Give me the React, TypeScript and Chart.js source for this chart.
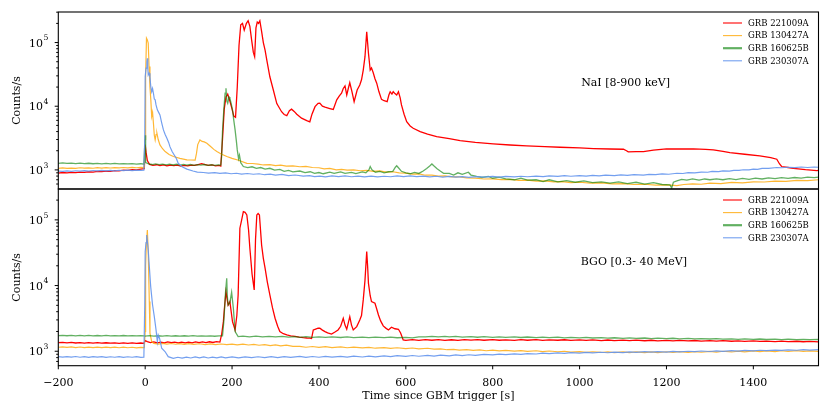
import React, { useEffect, useRef } from 'react';
import { Chart, registerables } from 'chart.js';

Chart.register(...registerables);

type Pt = [number, number];

const SERIES_NAMES = ['GRB 221009A', 'GRB 130427A', 'GRB 160625B', 'GRB 230307A'];
const LINE_COLORS = ['#ff0000', 'rgba(255,165,0,0.8)', 'rgba(0,128,0,0.62)', 'rgba(100,149,237,0.9)'];
const LINE_WIDTHS = [1.3, 1.2, 1.3, 1.2];
const LEGEND_WIDTHS = [1.1, 1.1, 2.2, 1.1];
const X_TICKS = [-200, 0, 200, 400, 600, 800, 1000, 1200, 1400];
const Y_TICKS = [1e3, 1e4, 1e5];
const X_TITLE = 'Time since GBM trigger [s]';
const Y_TITLE = 'Counts/s';
const NAI_LABEL = 'NaI [8-900 keV]';
const BGO_LABEL = 'BGO [0.3- 40 MeV]';

// ---------- NaI panel ----------
const NAI_221009A: Pt[] = [
  [-200, 890], [-190, 910], [-180, 895], [-170, 915], [-160, 905], [-150, 925], [-140, 915], [-130, 935],
  [-120, 925], [-110, 950], [-100, 940], [-90, 960], [-80, 950], [-70, 975], [-60, 965], [-50, 990], [-40, 980],
  [-30, 1005], [-20, 1000], [-10, 1030], [-2, 1045], [0, 2500], [2, 1900], [5, 1400], [10, 1220], [18, 1175],
  [26, 1205], [34, 1165], [42, 1195], [50, 1160], [58, 1190], [66, 1165], [74, 1185], [82, 1150], [90, 1180],
  [98, 1160], [106, 1190], [114, 1175], [122, 1215], [130, 1250], [138, 1215], [146, 1180], [154, 1195],
  [162, 1155], [170, 1175], [174, 1150], [178, 3000], [182, 9000], [186, 14000], [190, 15500], [195, 12000],
  [200, 9000], [204, 7000], [208, 6700], [212, 20000], [216, 90000], [220, 190000], [224, 200000],
  [228, 157000], [233, 200000], [237, 220000], [241, 180000], [245, 110000], [249, 70000], [252, 60000],
  [255, 170000], [258, 210000], [261, 200000], [264, 220000], [268, 150000], [272, 100000], [276, 76000],
  [280, 53000], [287, 29000], [295, 18000], [303, 11000], [314, 8200], [320, 7400], [326, 7100], [332, 8500],
  [337, 9000], [343, 8300], [349, 7500], [360, 6500], [372, 5950], [379, 5700], [384, 7500], [391, 9850],
  [398, 11100], [402, 11200], [408, 10000], [414, 9650], [425, 9200], [433, 8900], [441, 12600], [447, 14500],
  [452, 16000], [456, 19000], [460, 20800], [464, 15000], [468, 19500], [471, 23400], [476, 17000],
  [481, 11800], [485, 15000], [488, 18000], [494, 21600], [498, 26000], [502, 37000], [506, 60000],
  [510, 148000], [512, 100000], [514, 68000], [518, 37000], [521, 40000], [525, 33600], [529, 27000],
  [533, 23000], [538, 17000], [544, 12800], [550, 12200], [557, 11800], [561, 15000], [564, 16900],
  [568, 15500], [571, 16900], [575, 15800], [579, 15000], [583, 16900], [587, 13500], [590, 10500],
  [596, 7500], [602, 5700], [610, 4900], [617, 4500], [633, 4000], [650, 3650], [671, 3330], [700, 3100],
  [725, 2880], [760, 2700], [801, 2560], [840, 2460], [878, 2380], [920, 2320], [955, 2270], [1000, 2210],
  [1032, 2160], [1070, 2130], [1101, 2110], [1108, 2000], [1112, 1920], [1130, 1930], [1147, 1940],
  [1170, 2050], [1200, 2140], [1230, 2130], [1262, 2140], [1290, 2100], [1308, 2060], [1330, 1950],
  [1346, 1870], [1380, 1760], [1415, 1660], [1440, 1560], [1454, 1470], [1460, 1250], [1465, 1130],
  [1480, 1090], [1492, 1060], [1520, 1010], [1546, 975], [1550, 980],
];

const NAI_130427A: Pt[] = [
  [-200, 1060], [-190, 1075], [-180, 1055], [-170, 1070], [-160, 1060], [-150, 1080], [-140, 1065], [-130, 1078],
  [-120, 1062], [-110, 1082], [-100, 1070], [-90, 1085], [-80, 1072], [-70, 1088], [-60, 1075], [-50, 1090],
  [-40, 1078], [-30, 1092], [-20, 1080], [-10, 1095], [-2, 1090], [0, 3000], [1, 30000], [3, 117000],
  [5, 110000], [7, 98000], [9, 42000], [11, 20000], [13, 12600], [15, 6900], [17, 8000], [19, 5400], [21, 3500],
  [23, 2960], [25, 3600], [27, 3770], [30, 3000], [34, 2470], [40, 2150], [46, 1940], [55, 1750], [65, 1620],
  [80, 1520], [96, 1440], [105, 1430], [115, 1420], [118, 1800], [121, 2500], [126, 2960], [131, 2800],
  [136, 2750], [142, 2620], [150, 2350], [158, 2100], [165, 1940], [175, 1780], [188, 1620], [200, 1520],
  [215, 1420], [234, 1270], [247, 1260], [260, 1230], [272, 1195], [287, 1210], [300, 1170], [312, 1185],
  [325, 1150], [340, 1160], [356, 1120], [370, 1135], [385, 1090], [400, 1080], [412, 1040], [425, 1055],
  [440, 1000], [452, 1020], [465, 990], [480, 1000], [495, 970], [510, 985], [525, 950], [540, 965], [555, 925],
  [570, 935], [585, 900], [600, 890], [615, 860], [630, 865], [645, 825], [660, 830], [675, 800], [690, 805],
  [705, 775], [720, 780], [740, 750], [760, 745], [780, 720], [800, 725], [820, 705], [840, 710], [860, 685],
  [880, 690], [900, 665], [920, 670], [940, 650], [960, 655], [980, 632], [1000, 640], [1025, 618],
  [1050, 625], [1075, 605], [1100, 610], [1125, 590], [1150, 595], [1175, 575], [1200, 580], [1224, 565],
  [1240, 590], [1260, 605], [1280, 595], [1300, 620], [1325, 610], [1350, 635], [1375, 625], [1400, 650],
  [1425, 645], [1450, 665], [1475, 660], [1500, 685], [1525, 680], [1550, 700],
];

const NAI_160625B: Pt[] = [
  [-200, 1270], [-190, 1285], [-180, 1262], [-170, 1280], [-160, 1258], [-150, 1275], [-140, 1255], [-130, 1272],
  [-120, 1250], [-110, 1268], [-100, 1248], [-90, 1265], [-80, 1245], [-70, 1262], [-60, 1242], [-50, 1258],
  [-40, 1240], [-30, 1255], [-20, 1235], [-10, 1250], [-3, 1230], [0, 3500], [1, 1300], [8, 1240], [16, 1215],
  [24, 1245], [32, 1210], [40, 1235], [48, 1200], [56, 1230], [64, 1195], [72, 1225], [80, 1190], [88, 1220],
  [96, 1185], [104, 1215], [112, 1180], [120, 1210], [128, 1185], [136, 1215], [144, 1180], [152, 1205],
  [160, 1175], [168, 1200], [174, 1190], [176, 1620], [178, 4000], [181, 8760], [184, 16000], [186, 19200],
  [188, 12000], [190, 11100], [193, 14000], [195, 13400], [198, 11000], [201, 8760], [204, 6000], [207, 4250],
  [210, 2800], [212, 2060], [215, 1500], [217, 1700], [220, 1300], [226, 1130], [236, 1090], [246, 1120],
  [256, 1060], [266, 1090], [276, 1030], [287, 1060], [298, 990], [310, 1020], [320, 950], [330, 985],
  [340, 930], [356, 960], [368, 905], [380, 935], [390, 880], [400, 910], [410, 870], [425, 920], [435, 880],
  [450, 930], [460, 885], [475, 915], [485, 875], [500, 930], [508, 900], [515, 1000], [518, 1130], [522, 1000],
  [530, 920], [540, 950], [550, 900], [560, 935], [570, 950], [576, 1100], [579, 1160], [583, 1080], [590, 950],
  [600, 900], [610, 870], [620, 915], [630, 880], [640, 960], [648, 1050], [655, 1150], [660, 1240],
  [665, 1150], [672, 1040], [680, 950], [687, 885], [700, 880], [710, 830], [720, 900], [730, 850], [744, 920],
  [750, 830], [763, 790], [775, 760], [790, 790], [800, 740], [815, 770], [830, 720], [850, 700], [865, 740],
  [880, 690], [900, 700], [916, 655], [930, 700], [950, 650], [970, 680], [990, 640], [1010, 670], [1030, 630],
  [1050, 650], [1070, 620], [1090, 650], [1110, 610], [1130, 640], [1150, 600], [1170, 630], [1190, 590],
  [1208, 580], [1212, 520], [1216, 640], [1224, 670], [1235, 710], [1247, 690], [1260, 720], [1275, 690],
  [1288, 720], [1300, 700], [1315, 725], [1330, 700], [1345, 730], [1360, 705], [1375, 735], [1390, 712],
  [1405, 740], [1420, 720], [1435, 748], [1450, 730], [1465, 755], [1480, 738], [1495, 760], [1510, 745],
  [1525, 768], [1540, 755], [1550, 770],
];

const NAI_230307A: Pt[] = [
  [-200, 960], [-190, 945], [-180, 965], [-170, 950], [-160, 970], [-150, 955], [-140, 975], [-130, 958],
  [-120, 978], [-110, 962], [-100, 980], [-90, 965], [-80, 985], [-70, 968], [-60, 988], [-50, 972], [-40, 992],
  [-30, 975], [-20, 995], [-10, 980], [-3, 990], [-1, 3000], [0, 29000], [2, 39600], [4, 50000], [5, 56600],
  [6, 40000], [7, 31000], [9, 33000], [11, 29000], [13, 20000], [15, 16900], [17, 19000], [19, 16000],
  [21, 13000], [23, 12600], [25, 10500], [28, 8760], [31, 8000], [34, 7300], [38, 5500], [42, 4250],
  [46, 3600], [50, 3140], [54, 2700], [57, 2320], [62, 1950], [69, 1620], [72, 1500], [76, 1270], [85, 1120],
  [96, 1030], [110, 960], [120, 925], [134, 910], [146, 890], [160, 905], [172, 880], [185, 895], [198, 870],
  [210, 885], [222, 860], [235, 878], [249, 855], [262, 870], [275, 840], [288, 858], [300, 830], [315, 848],
  [330, 815], [345, 832], [364, 800], [378, 815], [390, 785], [402, 800], [415, 780], [430, 808], [445, 785],
  [460, 805], [475, 780], [490, 800], [505, 778], [520, 798], [535, 775], [550, 795], [565, 780], [580, 805],
  [595, 785], [610, 808], [625, 785], [640, 800], [655, 778], [670, 795], [685, 772], [700, 790], [715, 768],
  [730, 785], [745, 765], [763, 782], [780, 768], [800, 790], [815, 770], [830, 792], [850, 775], [865, 795],
  [880, 780], [900, 800], [916, 785], [930, 805], [950, 790], [965, 810], [980, 795], [1000, 815],
  [1015, 800], [1030, 822], [1045, 808], [1060, 830], [1080, 815], [1095, 835], [1110, 822], [1125, 842],
  [1147, 830], [1160, 852], [1175, 840], [1190, 865], [1205, 855], [1224, 885], [1238, 878], [1250, 905],
  [1265, 898], [1280, 925], [1295, 918], [1305, 945], [1320, 940], [1330, 965], [1345, 958], [1355, 985],
  [1367, 980], [1377, 1005], [1390, 1000], [1400, 1025], [1410, 1020], [1420, 1055], [1435, 1060],
  [1454, 1090], [1465, 1080], [1480, 1100], [1495, 1085], [1510, 1110], [1525, 1090], [1540, 1110],
  [1550, 1100],
];

// ---------- BGO panel ----------
const BGO_221009A: Pt[] = [
  [-200, 1350], [-190, 1365], [-180, 1340], [-170, 1360], [-160, 1335], [-150, 1355], [-140, 1332], [-130, 1352],
  [-120, 1330], [-110, 1350], [-100, 1328], [-90, 1348], [-80, 1325], [-70, 1345], [-60, 1322], [-50, 1342],
  [-40, 1320], [-30, 1338], [-20, 1318], [-10, 1335], [-3, 1320], [0, 1450], [5, 1400], [12, 1350], [20, 1385],
  [28, 1345], [36, 1380], [44, 1340], [52, 1385], [60, 1350], [68, 1375], [76, 1340], [84, 1380], [92, 1345],
  [100, 1375], [108, 1340], [116, 1385], [124, 1350], [132, 1390], [140, 1355], [148, 1395], [156, 1360],
  [164, 1400], [172, 1380], [176, 1800], [180, 2820], [183, 5000], [186, 8070], [189, 6000], [191, 5060],
  [195, 5700], [198, 4000], [201, 2820], [207, 2110], [211, 3500], [214, 7200], [218, 74600], [222, 99000],
  [226, 133000], [230, 130000], [234, 119000], [238, 70000], [241, 37000], [246, 15000], [251, 8570],
  [254, 50000], [257, 119000], [260, 125000], [263, 119000], [268, 41500], [272, 26000], [276, 18400],
  [281, 11500], [287, 7200], [293, 4600], [299, 3180], [305, 2400], [310, 1990], [318, 1850], [326, 1770],
  [335, 1720], [345, 1680], [355, 1640], [364, 1610], [372, 1590], [379, 1580], [383, 1560], [387, 2110],
  [391, 2160], [398, 2240], [402, 2240], [408, 2100], [414, 1990], [420, 1900], [429, 1830], [436, 1950],
  [444, 2110], [450, 2400], [456, 3180], [460, 2500], [464, 2160], [471, 3360], [475, 2500], [479, 2110],
  [487, 2370], [494, 3000], [498, 3500], [502, 6050], [506, 12000], [510, 32900], [512, 20000], [514, 10800],
  [518, 7000], [521, 5700], [529, 5380], [533, 4400], [537, 3570], [542, 2900], [548, 2430], [554, 2250],
  [560, 2110], [567, 2320], [575, 2200], [583, 2160], [588, 1900], [594, 1490], [600, 1460], [615, 1500],
  [630, 1465], [645, 1505], [660, 1470], [675, 1500], [690, 1460], [705, 1495], [720, 1465], [735, 1505],
  [750, 1475], [765, 1500], [780, 1470], [800, 1500], [815, 1470], [830, 1495], [850, 1465], [865, 1500],
  [880, 1470], [900, 1500], [915, 1465], [930, 1495], [950, 1470], [965, 1495], [980, 1462], [1000, 1490],
  [1015, 1460], [1030, 1485], [1050, 1455], [1065, 1482], [1080, 1452], [1100, 1478], [1115, 1450],
  [1130, 1475], [1150, 1445], [1165, 1470], [1180, 1440], [1200, 1465], [1215, 1438], [1230, 1462],
  [1250, 1435], [1265, 1458], [1280, 1430], [1300, 1452], [1315, 1425], [1330, 1448], [1350, 1420],
  [1365, 1442], [1380, 1415], [1400, 1435], [1415, 1410], [1430, 1430], [1450, 1405], [1465, 1425],
  [1480, 1400], [1500, 1420], [1515, 1395], [1530, 1410], [1550, 1390],
];

const BGO_130427A: Pt[] = [
  [-200, 1150], [-190, 1168], [-180, 1142], [-170, 1162], [-160, 1138], [-150, 1160], [-140, 1135], [-130, 1158],
  [-120, 1132], [-110, 1155], [-100, 1135], [-90, 1158], [-80, 1132], [-70, 1152], [-60, 1130], [-50, 1155],
  [-40, 1130], [-30, 1150], [-20, 1128], [-10, 1148], [-2, 1135], [0, 2000], [1, 20000], [2.6, 41500],
  [5, 70000], [7, 32800], [9.5, 5700], [11, 1880], [15, 1400], [20, 1320], [30, 1285], [40, 1315], [50, 1280],
  [60, 1312], [70, 1278], [80, 1310], [90, 1275], [100, 1305], [112, 1270], [125, 1300], [138, 1265],
  [150, 1295], [162, 1262], [175, 1290], [188, 1258], [200, 1285], [212, 1252], [225, 1280], [238, 1245],
  [250, 1272], [262, 1235], [275, 1262], [288, 1222], [300, 1250], [312, 1210], [325, 1235], [340, 1185],
  [356, 1190], [370, 1150], [385, 1180], [400, 1145], [415, 1172], [430, 1138], [450, 1165], [465, 1130],
  [480, 1155], [500, 1122], [515, 1148], [530, 1112], [550, 1138], [565, 1105], [580, 1130], [600, 1098],
  [615, 1120], [630, 1090], [650, 1110], [665, 1075], [680, 1090], [695, 1055], [710, 1068], [723, 1040],
  [740, 1060], [755, 1028], [770, 1048], [785, 1018], [800, 1040], [815, 1012], [830, 1032], [850, 1005],
  [865, 1025], [880, 998], [900, 1018], [915, 990], [930, 1008], [950, 982], [965, 1000], [980, 972],
  [1000, 990], [1015, 962], [1030, 982], [1050, 958], [1065, 978], [1080, 952], [1100, 975], [1115, 950],
  [1130, 975], [1150, 955], [1165, 980], [1180, 955], [1200, 982], [1215, 958], [1230, 985], [1250, 962],
  [1265, 990], [1280, 965], [1300, 995], [1315, 970], [1330, 1000], [1350, 975], [1365, 1005], [1380, 980],
  [1400, 1012], [1415, 985], [1430, 1015], [1450, 990], [1465, 1018], [1480, 992], [1500, 1020],
  [1515, 995], [1530, 1015], [1550, 995],
];

const BGO_160625B: Pt[] = [
  [-200, 1730], [-190, 1750], [-180, 1722], [-170, 1745], [-160, 1720], [-150, 1742], [-140, 1718], [-130, 1740],
  [-120, 1715], [-110, 1738], [-100, 1720], [-90, 1742], [-80, 1715], [-70, 1735], [-60, 1712], [-50, 1738],
  [-40, 1715], [-30, 1735], [-20, 1712], [-10, 1732], [-2, 1720], [0, 1700], [10, 1725], [20, 1698],
  [30, 1722], [40, 1695], [50, 1725], [60, 1700], [70, 1720], [80, 1695], [90, 1722], [100, 1700], [110, 1725],
  [120, 1698], [130, 1718], [140, 1695], [150, 1715], [160, 1692], [170, 1718], [178, 1720], [181, 2820],
  [185, 8000], [187.7, 12900], [189, 7000], [191, 5060], [195, 5500], [199, 7900], [203, 4510], [207, 1990],
  [214, 1670], [225, 1700], [240, 1660], [255, 1695], [270, 1655], [285, 1690], [300, 1650], [315, 1685],
  [330, 1645], [345, 1675], [356, 1625], [370, 1665], [385, 1630], [400, 1660], [415, 1625], [430, 1655],
  [450, 1620], [465, 1650], [480, 1615], [500, 1645], [515, 1612], [530, 1640], [550, 1610], [565, 1640],
  [580, 1605], [600, 1630], [615, 1600], [630, 1650], [645, 1660], [660, 1690], [675, 1650], [690, 1685],
  [700, 1650], [715, 1680], [730, 1645], [750, 1670], [765, 1635], [780, 1665], [800, 1630], [815, 1660],
  [830, 1625], [850, 1650], [865, 1620], [880, 1648], [900, 1615], [915, 1640], [930, 1610], [950, 1635],
  [965, 1600], [980, 1628], [1000, 1598], [1015, 1622], [1030, 1590], [1050, 1615], [1065, 1585],
  [1080, 1605], [1100, 1575], [1115, 1600], [1130, 1570], [1150, 1592], [1165, 1562], [1180, 1585],
  [1200, 1555], [1215, 1578], [1230, 1548], [1250, 1570], [1265, 1540], [1280, 1562], [1300, 1535],
  [1315, 1555], [1330, 1528], [1350, 1548], [1365, 1520], [1380, 1540], [1400, 1515], [1415, 1535],
  [1430, 1510], [1450, 1530], [1465, 1505], [1480, 1525], [1500, 1502], [1515, 1520], [1530, 1498],
  [1550, 1510],
];

const BGO_230307A: Pt[] = [
  [-200, 828], [-190, 812], [-180, 830], [-170, 815], [-160, 832], [-150, 810], [-140, 828], [-130, 808],
  [-120, 826], [-110, 812], [-100, 828], [-90, 805], [-80, 825], [-70, 810], [-60, 828], [-50, 806], [-40, 824],
  [-30, 810], [-20, 826], [-10, 808], [-3, 815], [-1, 5000], [0, 32800], [2, 45000], [3.5, 58700], [5.5, 44000],
  [7, 35000], [8.8, 23100], [12.7, 9630], [17, 5060], [21, 3360], [25, 2110], [28, 1400], [30, 1770],
  [33, 1580], [36, 1300], [38, 1110], [45.6, 990], [53, 828], [64.7, 780], [75, 810], [85, 785], [95, 815],
  [105, 790], [115, 818], [125, 792], [135, 820], [145, 790], [155, 815], [165, 795], [175, 822], [185, 795],
  [200, 818], [215, 792], [230, 822], [245, 798], [260, 825], [275, 800], [290, 828], [305, 802], [320, 830],
  [335, 805], [356, 835], [370, 805], [385, 832], [400, 810], [415, 835], [430, 812], [450, 838], [465, 815],
  [480, 842], [500, 818], [515, 845], [530, 822], [550, 848], [565, 828], [580, 855], [600, 835], [615, 862],
  [630, 840], [650, 868], [665, 845], [680, 872], [700, 852], [715, 880], [730, 860], [745, 885], [760, 868],
  [780, 895], [800, 880], [815, 905], [830, 888], [850, 912], [865, 898], [880, 922], [900, 908], [915, 935],
  [930, 918], [950, 942], [965, 928], [980, 950], [1000, 935], [1015, 958], [1030, 942], [1050, 965],
  [1065, 948], [1080, 972], [1100, 955], [1115, 978], [1130, 962], [1150, 985], [1165, 968], [1180, 990],
  [1200, 972], [1215, 995], [1230, 978], [1250, 1000], [1265, 985], [1280, 1008], [1300, 992], [1315, 1015],
  [1330, 998], [1350, 1022], [1365, 1005], [1380, 1030], [1400, 1012], [1415, 1035], [1430, 1020],
  [1450, 1042], [1465, 1028], [1480, 1050], [1500, 1035], [1515, 1058], [1530, 1040], [1550, 1055],
];

const NAI_SERIES: Pt[][] = [NAI_221009A, NAI_130427A, NAI_160625B, NAI_230307A];
const BGO_SERIES: Pt[][] = [BGO_221009A, BGO_130427A, BGO_160625B, BGO_230307A];

const FONT = '"DejaVu Serif", serif';

interface PanelProps {
  series: Pt[][];
  yMin: number;
  yMax: number;
  showX: boolean;
  label: string;
  labelAt: [number, number];
  top: number;
  height: number;
  padTop: number;
  padBottom: number;
}

function Panel(props: PanelProps) {
  const ref = useRef<HTMLCanvasElement | null>(null);
  useEffect(() => {
    const canvas = ref.current;
    if (!canvas) return;
    const { series, yMin, yMax, showX, label, labelAt, top } = props;
    const decor = {
      id: 'decor',
      afterDraw(chart: any) {
        const ctx = chart.ctx as CanvasRenderingContext2D;
        const a = chart.chartArea;
        const ys = chart.scales.y;
        const xs = chart.scales.x;
        ctx.save();
        ctx.strokeStyle = '#000';
        ctx.lineWidth = 1;
        // y tick marks (major and minor)
        for (let e = 2; e <= 5; e++) {
          for (let m = 1; m <= 9; m++) {
            const v = m * Math.pow(10, e);
            if (v < ys.min || v > ys.max) continue;
            const y = ys.getPixelForValue(v);
            const len = m === 1 ? 3.6 : 2.1;
            ctx.beginPath();
            ctx.moveTo(a.left, y);
            ctx.lineTo(a.left - len, y);
            ctx.stroke();
          }
        }
        // y tick labels: 10 with superscript exponent
        ctx.fillStyle = '#000';
        ctx.textBaseline = 'alphabetic';
        ctx.textAlign = 'right';
        for (const v of Y_TICKS) {
          const y = ys.getPixelForValue(v);
          const exp = String(Math.round(Math.log10(v)));
          const right = a.left - 10;
          ctx.font = `7.7px ${FONT}`;
          const ew = ctx.measureText(exp).width;
          ctx.fillText(exp, right, y - 2.2);
          ctx.font = `11px ${FONT}`;
          ctx.fillText('10', right - ew - 0.4, y + 4);
        }
        if (showX) {
          for (const t of X_TICKS) {
            const x = xs.getPixelForValue(t);
            ctx.beginPath();
            ctx.moveTo(x, a.bottom);
            ctx.lineTo(x, a.bottom + 3.6);
            ctx.stroke();
          }
          ctx.font = `11px ${FONT}`;
          ctx.textAlign = 'center';
          ctx.textBaseline = 'middle';
          ctx.fillText(X_TITLE, (a.left + a.right) / 2, 396 - top);
        }
        // frame
        ctx.lineWidth = 1.1;
        ctx.strokeRect(a.left, a.top, a.right - a.left, a.bottom - a.top);
        // y title
        ctx.font = `11px ${FONT}`;
        ctx.save();
        ctx.translate(17.5, (a.top + a.bottom) / 2);
        ctx.rotate(-Math.PI / 2);
        ctx.textAlign = 'center';
        ctx.textBaseline = 'middle';
        ctx.fillText(Y_TITLE, 0, 0);
        ctx.restore();
        // annotation label
        ctx.textAlign = 'center';
        ctx.textBaseline = 'middle';
        ctx.font = `11px ${FONT}`;
        ctx.fillText(label, xs.getPixelForValue(labelAt[0]), ys.getPixelForValue(labelAt[1]));
        // legend
        ctx.font = `8.5px ${FONT}`;
        ctx.textAlign = 'left';
        for (let i = 0; i < SERIES_NAMES.length; i++) {
          const y = a.top + 11 + i * 12.6;
          ctx.strokeStyle = LINE_COLORS[i];
          ctx.lineWidth = LEGEND_WIDTHS[i];
          ctx.beginPath();
          ctx.moveTo(723, y);
          ctx.lineTo(742, y);
          ctx.stroke();
          ctx.fillStyle = '#000';
          ctx.fillText(SERIES_NAMES[i], 748, y + 0.5);
        }
        ctx.restore();
      },
    };

    const chart = new Chart(canvas, {
      type: 'line',
      data: {
        datasets: series.map((s, i) => ({
          label: SERIES_NAMES[i],
          data: s.map(([x, y]) => ({ x, y })),
          borderColor: LINE_COLORS[i],
          borderWidth: LINE_WIDTHS[i],
          pointRadius: 0,
          tension: 0,
          fill: false,
          order: SERIES_NAMES.length - i,
        })),
      },
      options: {
        animation: false,
        responsive: false,
        maintainAspectRatio: false,
        events: [],
        layout: { padding: { left: 0, right: 11.5, top: props.padTop, bottom: props.padBottom } },
        plugins: { legend: { display: false }, tooltip: { enabled: false } },
        scales: {
          x: {
            type: 'linear',
            min: -200,
            max: 1550,
            display: showX,
            grid: { display: false, drawTicks: false },
            border: { display: false },
            afterBuildTicks: (sc: any) => {
              sc.ticks = X_TICKS.map((v) => ({ value: v }));
            },
            afterFit: (sc: any) => {
              sc.height = showX ? 49.3 : 0;
              sc.paddingLeft = 0;
              sc.paddingRight = 0;
              sc.paddingTop = 0;
              sc.paddingBottom = 0;
            },
            ticks: {
              autoSkip: false,
              maxRotation: 0,
              padding: 10.5,
              color: '#000',
              font: { family: FONT, size: 11 },
              callback: (v: any) => (Number(v) < 0 ? '\u2212' + Math.abs(Number(v)) : String(v)),
            },
          },
          y: {
            type: 'logarithmic',
            min: yMin,
            max: yMax,
            grid: { display: false, drawTicks: false },
            border: { display: false },
            afterBuildTicks: (sc: any) => {
              sc.ticks = Y_TICKS.map((v) => ({ value: v }));
            },
            afterFit: (sc: any) => {
              sc.width = 58.3;
              sc.paddingLeft = 0;
              sc.paddingRight = 0;
              sc.paddingTop = 0;
              sc.paddingBottom = 0;
            },
            ticks: { display: false },
          },
        },
      },
      plugins: [decor],
    } as any);
    return () => chart.destroy();
  }, []);
  return (
    <canvas
      ref={ref}
      width={830}
      height={props.height}
      style={{ position: 'absolute', left: 0, top: props.top, width: 830, height: props.height }}
    />
  );
}

export default function App() {
  return (
    <div style={{ position: 'absolute', left: 0, top: 0, width: 830, height: 415, background: '#fff' }}>
      <Panel
        series={NAI_SERIES}
        yMin={Math.pow(10, 2.7)}
        yMax={Math.pow(10, 5.48)}
        showX={false}
        label={NAI_LABEL}
        labelAt={[1106, 23200]}
        top={0}
        height={190}
        padTop={12}
        padBottom={1}
      />
      <Panel
        series={BGO_SERIES}
        yMin={Math.pow(10, 2.78)}
        yMax={Math.pow(10, 5.47)}
        showX={true}
        label={BGO_LABEL}
        labelAt={[1125, 22900]}
        top={188}
        height={227}
        padTop={1}
        padBottom={0}
      />
    </div>
  );
}
